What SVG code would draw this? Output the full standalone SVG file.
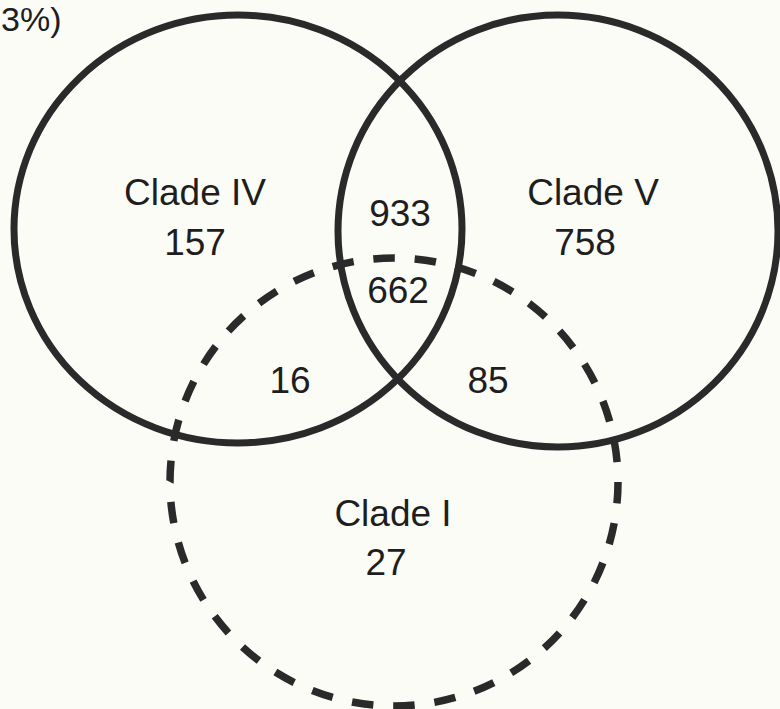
<svg xmlns="http://www.w3.org/2000/svg" width="780" height="709" viewBox="0 0 780 709">
  <style>
    .ring { fill: none; stroke: #2a2a2a; stroke-width: 7; }
    .dashed { fill: none; stroke: #2a2a2a; stroke-width: 7.5; stroke-dasharray: 0.52 0.48; }
    .lbl { font-family: "Liberation Sans", Arial, sans-serif; font-size: 37px; fill: #1e1e1e; text-anchor: middle; }
  </style>
  <rect width="780" height="709" fill="#fcfcf7"/>

  <!-- caption remnant, top left -->
  <text class="lbl" x="1" y="31" style="text-anchor:start;font-size:34px">3%)</text>

  <g id="connectors"></g>

  <!-- Clade IV set -->
  <g id="clade-iv">
    <ellipse class="ring" cx="238" cy="229" rx="224" ry="214"/>
    <text class="lbl" x="195" y="205">Clade IV</text>
    <text class="lbl" x="195" y="255">157</text>
  </g>

  <!-- Clade V set -->
  <g id="clade-v">
    <ellipse class="ring" cx="558" cy="231" rx="220" ry="216"/>
    <text class="lbl" x="593" y="205">Clade V</text>
    <text class="lbl" x="585" y="255">758</text>
  </g>

  <!-- Clade I set (dashed) -->
  <g id="clade-i">
    <circle class="dashed" cx="394" cy="482" r="224" pathLength="34"/>
    <text class="lbl" x="393" y="526">Clade I</text>
    <text class="lbl" x="386" y="575">27</text>
  </g>

  <!-- overlap counts -->
  <g id="overlaps">
    <text class="lbl" x="400" y="226">933</text>
    <text class="lbl" x="398" y="303">662</text>
    <text class="lbl" x="290" y="393">16</text>
    <text class="lbl" x="488" y="393">85</text>
  </g>
</svg>
